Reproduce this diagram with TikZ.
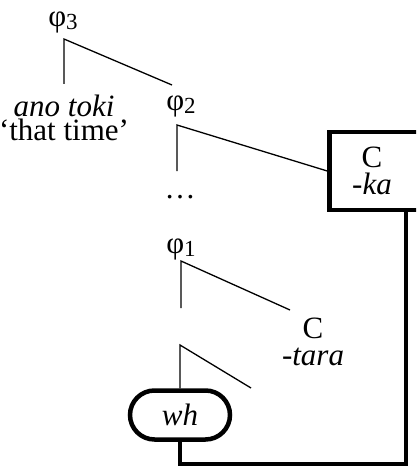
\documentclass[tikz,border=0pt]{standalone}
\usepackage{fontspec}
\setmainfont{Liberation Serif}
\usetikzlibrary{shapes.misc}
\newcommand\phisub[1]{φ\raisebox{-0.1em}{\fontsize{23}{23}\selectfont #1}}
\begin{document}
\begin{tikzpicture}[x=1pt,y=-1pt,
  treeline/.style={line width=1.3pt},
  heavy/.style={line width=4.5pt},
  lbl/.style={inner sep=0pt, font=\fontsize{31}{27}\selectfont},
  twoline/.style={lbl, align=center, anchor=base}]
\clip (0,0) rectangle (416,468);
% labels
\node[lbl] (p3) at (63,22) {\phisub{3}};
\node[twoline, font=\fontsize{31}{24}\selectfont] (ano) at (64,140) {\textit{ano toki}\\‘that time’};
\node[lbl] (p2) at (181,106) {\phisub{2}};
\node[lbl] (dots) at (180,197) {…};
\node[lbl] (p1) at (181,249) {\phisub{1}};
\node[twoline] (tara) at (313,365) {C\\\textit{-tara}};
% box
\node[draw, heavy, minimum width=100pt, minimum height=78pt, inner sep=0pt] (box) at (379.5,171) {};
\node[twoline] (ka) at (372,194) {C\\\textit{-ka}};
% pill
\node[draw, heavy, rounded rectangle, minimum width=100pt, minimum height=49pt, inner sep=0pt, font=\fontsize{31}{33}\selectfont] (wh) at (180,415) {\itshape wh};
% tree lines
\coordinate (p3t) at (64,39);
\coordinate (p3l) at (64,84);
\coordinate (p3r) at (172,85);
\draw[treeline] (p3l) -- (p3t) -- (p3r);
\coordinate (p2t) at (177,125);
\coordinate (p2l) at (177,171);
\draw[treeline] (p2l) -- (p2t) -- (box.west);
\coordinate (p1t) at (181,261);
\coordinate (p1l) at (181,308);
\coordinate (p1r) at (290,310);
\draw[treeline] (p1l) -- (p1t) -- (p1r);
\coordinate (nt) at (180,345);
\coordinate (nr) at (251,388);
\draw[treeline] (wh.north) -- (nt) -- (nr);
% heavy connector
\coordinate (cr) at (406,464);
\draw[heavy] (wh.south) |- (cr) -- (cr |- box.south);
\end{tikzpicture}
\end{document}
